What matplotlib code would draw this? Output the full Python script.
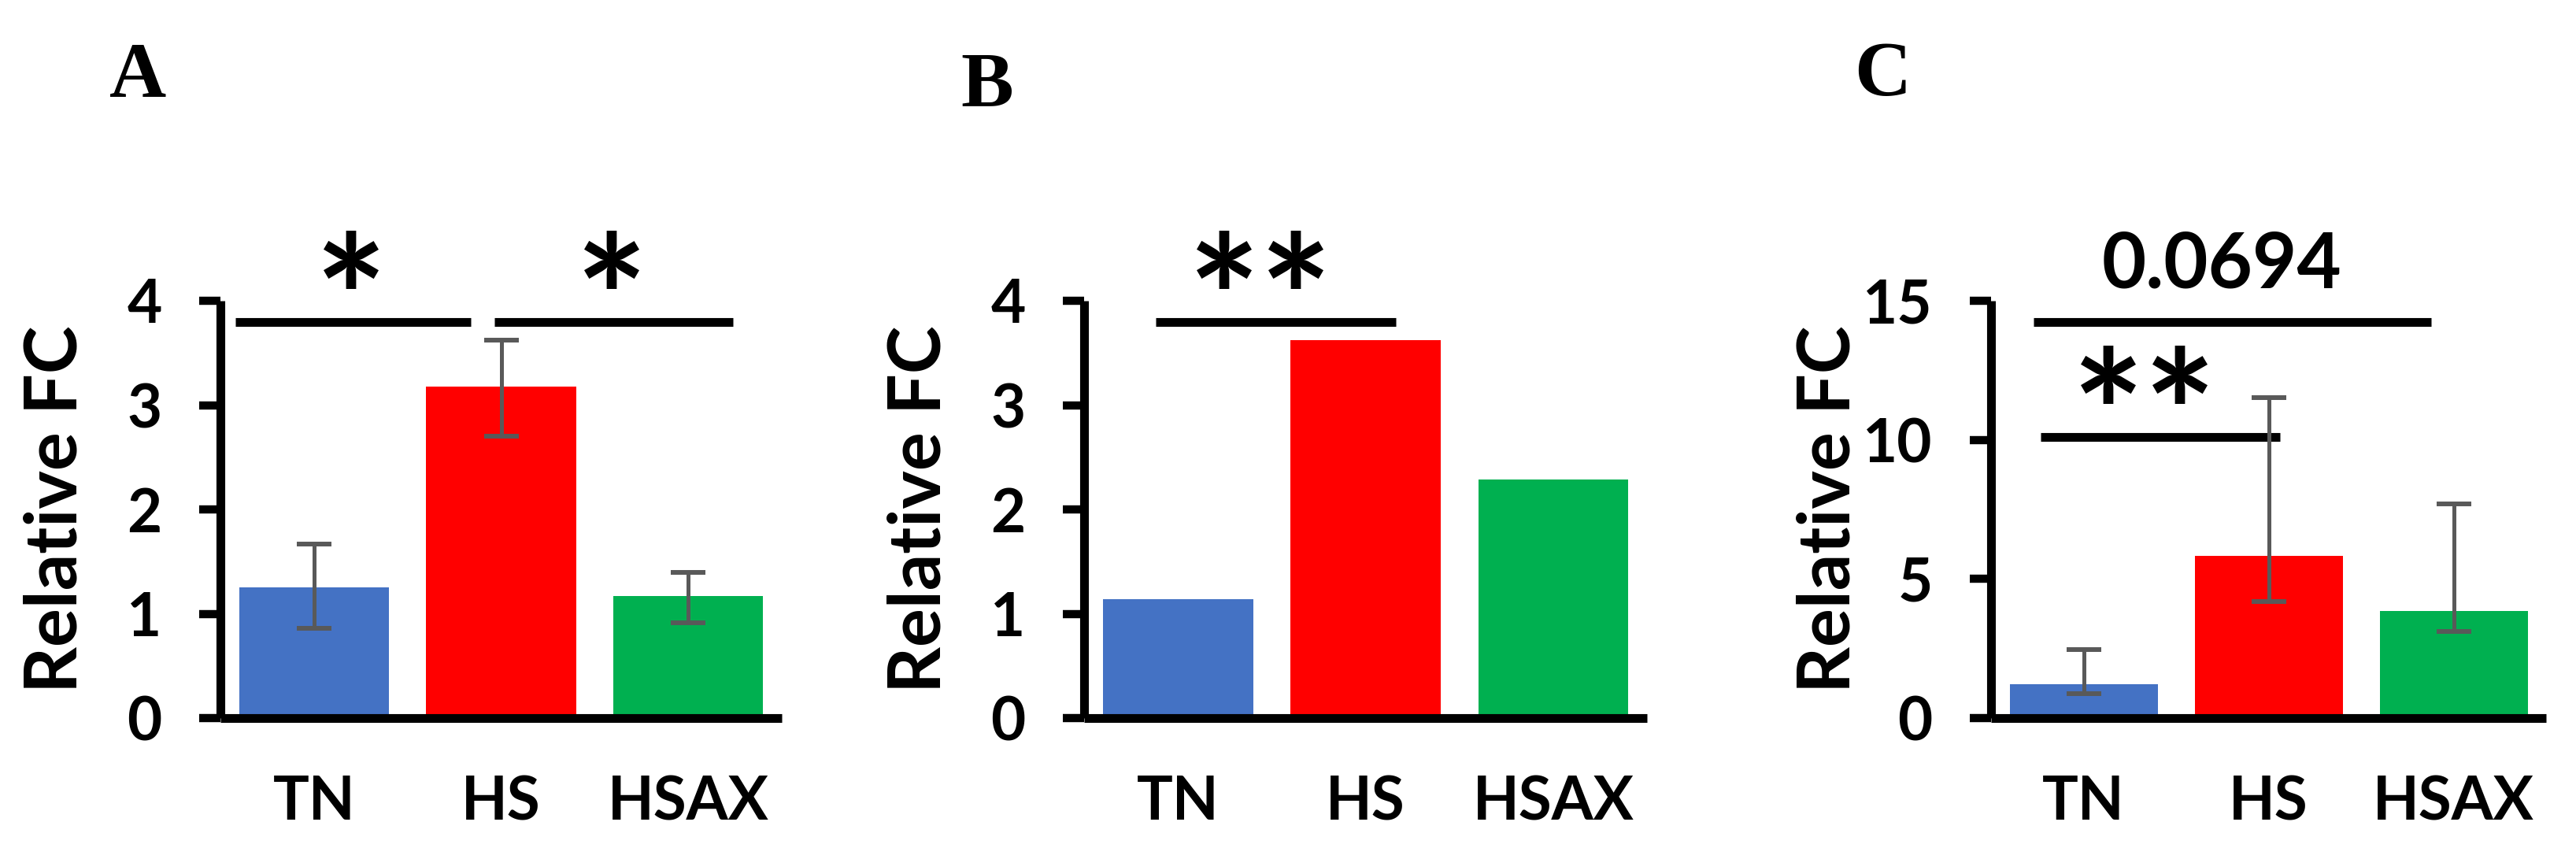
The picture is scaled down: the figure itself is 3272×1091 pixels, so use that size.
import matplotlib
matplotlib.use('Agg')
import matplotlib.pyplot as plt

plt.rcParams['font.family'] = ['Lato', 'DejaVu Sans']
plt.rcParams['font.weight'] = 'bold'

# ---------------- data ----------------
categories = ['TN', 'HS', 'HSAX']
bar_colors = ['#4472C4', '#FF0000', '#00B050']

a_values = [1.25, 3.18, 1.17]
a_err_lower = [0.39, 0.48, 0.26]
a_err_upper = [0.42, 0.44, 0.23]

b_values = [1.14, 3.62, 2.29]

c_values = [1.23, 5.83, 3.85]
c_err_lower = [0.36, 1.64, 0.74]
c_err_upper = [1.23, 5.69, 3.85]

a_yticks = [0, 1, 2, 3, 4]
b_yticks = [0, 1, 2, 3, 4]
c_yticks = [0, 5, 10, 15]

# significance brackets: (x_start, x_end, y, label, label_x, label_y)
a_sig = [(-0.42, 0.84, 3.80, '*', 0.20, 4.34),
         (0.965, 2.24, 3.80, '*', 1.59, 4.34)]
b_sig = [(-0.12, 1.16, 3.80, '**', 0.44, 4.34)]
c_sig = [(-0.27, 1.88, 14.24, '0.0694', 0.745, 16.27),
         (-0.23, 1.06, 10.10, '**', 0.33, 12.14)]

panel_letters = ['A', 'B', 'C']

# ---------------- figure ----------------
W, H = 3272, 1091
fig = plt.figure(figsize=(W / 100, H / 100), dpi=100)

def px_axes(left, right, top, bottom):
    return fig.add_axes([left / W, 1 - bottom / H, (right - left) / W, (bottom - top) / H])

axA = px_axes(280, 993, 382, 912)
axB = px_axes(1377, 2092, 382, 912)
axC = px_axes(2529, 3234, 382, 912)

def style(ax, ymax, yticks):
    ax.set_xlim(-0.5, 2.5)
    ax.set_ylim(0, ymax)
    ax.set_yticks(yticks)
    ax.set_xticks(range(len(categories)))
    ax.set_xticklabels(categories)
    for s in ['top', 'right']:
        ax.spines[s].set_visible(False)
    for s in ['left', 'bottom']:
        ax.spines[s].set_linewidth(8)
        ax.spines[s].set_capstyle('butt')
    ax.tick_params(axis='y', length=19.5, width=7.5, pad=34, labelsize=55, direction='out')
    ax.tick_params(axis='x', length=0, pad=52, labelsize=55)
    ax.set_ylabel('Relative FC', fontsize=66, fontweight='bold', va='center')
    ax.yaxis.set_label_coords(-0.292, 0.5)

def add_sig(ax, sig):
    for x1, x2, y, lab, lx, ly in sig:
        ax.plot([x1, x2], [y, y], color='black', lw=8, solid_capstyle='butt', clip_on=False)
        if lab.startswith('*'):
            ax.annotate(lab, (lx, ly), xytext=(0, -42), textcoords='offset points',
                        ha='center', va='center', fontsize=156, fontweight='bold',
                        annotation_clip=False)
        else:
            ax.text(lx, ly, lab, ha='center', va='center', fontsize=70,
                    fontweight='bold', clip_on=False)

x = range(len(categories))
err_kw = dict(fmt='none', ecolor='#595959', elinewidth=3.6, capsize=16, capthick=4.3, zorder=3)

axA.bar(x, a_values, width=0.8, color=bar_colors)
axA.errorbar(x, a_values, yerr=[a_err_lower, a_err_upper], **err_kw)
style(axA, 4, a_yticks)
add_sig(axA, a_sig)

axB.bar(x, b_values, width=0.8, color=bar_colors)
style(axB, 4, b_yticks)
add_sig(axB, b_sig)

axC.bar(x, c_values, width=0.8, color=bar_colors)
axC.errorbar(x, c_values, yerr=[c_err_lower, c_err_upper], **err_kw)
style(axC, 15, c_yticks)
add_sig(axC, c_sig)

for letter, (cx, by) in zip(panel_letters, [(175, 123), (1254, 134), (2391, 121)]):
    fig.text(cx / W, 1 - by / H, letter, ha='center', va='baseline', fontsize=72,
             fontweight='bold', family=['Liberation Serif', 'DejaVu Serif'])

fig.savefig('out.png', dpi=100)
